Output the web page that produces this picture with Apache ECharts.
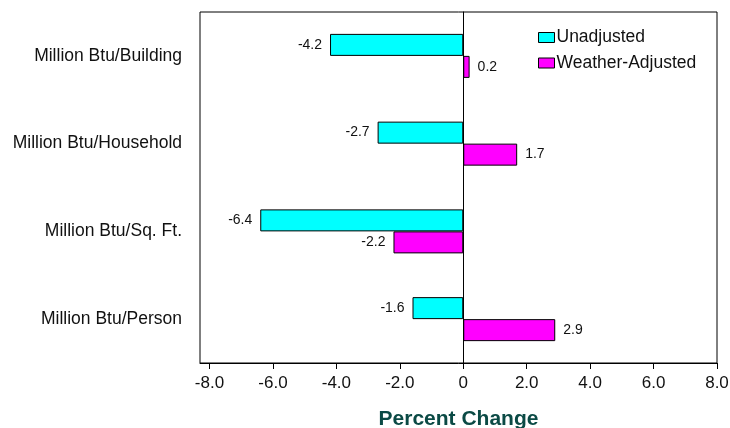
<!DOCTYPE html>
<html>
<head>
<meta charset="utf-8">
<script src="https://cdn.jsdelivr.net/npm/echarts@6/dist/echarts.min.js"></script>
<style>
html,body{margin:0;padding:0;background:#fff;}
#main{width:730px;height:428px;}
</style>
</head>
<body>
<div id="main"></div>
<script>
var categories = ['Million Btu/Building', 'Million Btu/Household', 'Million Btu/Sq. Ft.', 'Million Btu/Person'];
var unadjusted = [-4.2, -2.7, -6.4, -1.6];
var weatherAdjusted = [0.2, 1.7, -2.2, 2.9];
var tickValues = [-8, -6, -4, -2, 0, 2, 4, 6, 8];

function toData(arr) {
  return arr.map(function (v) {
    return { value: v, label: { position: v < 0 ? 'left' : 'right' } };
  });
}

var font = 'Liberation Sans, Arial, sans-serif';
var chart = echarts.init(document.getElementById('main'), null, { renderer: 'canvas' });
chart.setOption({
  animation: false,
  backgroundColor: '#ffffff',
  grid: { left: 200, right: 13, top: 12, bottom: 65, show: true, borderColor: '#000', borderWidth: 1, containLabel: false, outerBoundsMode: 'none' },
  legend: {
    orient: 'vertical',
    left: 538,
    top: 28.5,
    padding: 0,
    itemWidth: 16,
    itemHeight: 10,
    itemGap: 7.5,
    icon: 'rect',
    data: ['Unadjusted', 'Weather-Adjusted'],
    textStyle: { fontFamily: font, fontSize: 17.5, color: '#111', lineHeight: 18, padding: [0, 0, 0, -3] },
    itemStyle: { borderColor: '#000', borderWidth: 1 }
  },
  xAxis: {
    type: 'value',
    min: -8.3,
    max: 8,
    name: 'Percent Change',
    nameLocation: 'middle',
    nameGap: 46,
    nameTextStyle: { fontFamily: font, fontSize: 21, fontWeight: 'bold', color: '#0b4a45' },
    axisLine: { show: true, lineStyle: { color: '#000', width: 1 } },
    axisTick: { show: true, length: 6, customValues: tickValues, lineStyle: { color: '#000' } },
    axisLabel: {
      customValues: tickValues,
      margin: 12,
      fontFamily: font, fontSize: 17, color: '#111',
      formatter: function (v) { return v === 0 ? '0' : v.toFixed(1); }
    },
    splitLine: { show: false }
  },
  yAxis: {
    type: 'category',
    inverse: true,
    data: categories,
    axisLine: { show: true, lineStyle: { color: '#000' } },
    axisTick: { show: false },
    axisLabel: { margin: 18, fontFamily: font, fontSize: 17.5, color: '#111' },
    splitLine: { show: false }
  },
  series: [
    {
      name: 'Unadjusted',
      type: 'bar',
      data: toData(unadjusted),
      barWidth: 22,
      barGap: '0%',
      itemStyle: { color: '#00ffff', borderColor: '#000', borderWidth: 1 },
      label: { show: true, distance: 8, fontFamily: font, fontSize: 14, color: '#111' },
      markLine: {
        silent: true,
        symbol: 'none',
        label: { show: false },
        lineStyle: { color: '#000', width: 1, type: 'solid' },
        data: [{ xAxis: 0 }]
      }
    },
    {
      name: 'Weather-Adjusted',
      type: 'bar',
      data: toData(weatherAdjusted),
      barWidth: 22,
      barGap: '0%',
      itemStyle: { color: '#ff00ff', borderColor: '#000', borderWidth: 1 },
      label: { show: true, distance: 8, fontFamily: font, fontSize: 14, color: '#111' }
    }
  ]
});
</script>
</body>
</html>
